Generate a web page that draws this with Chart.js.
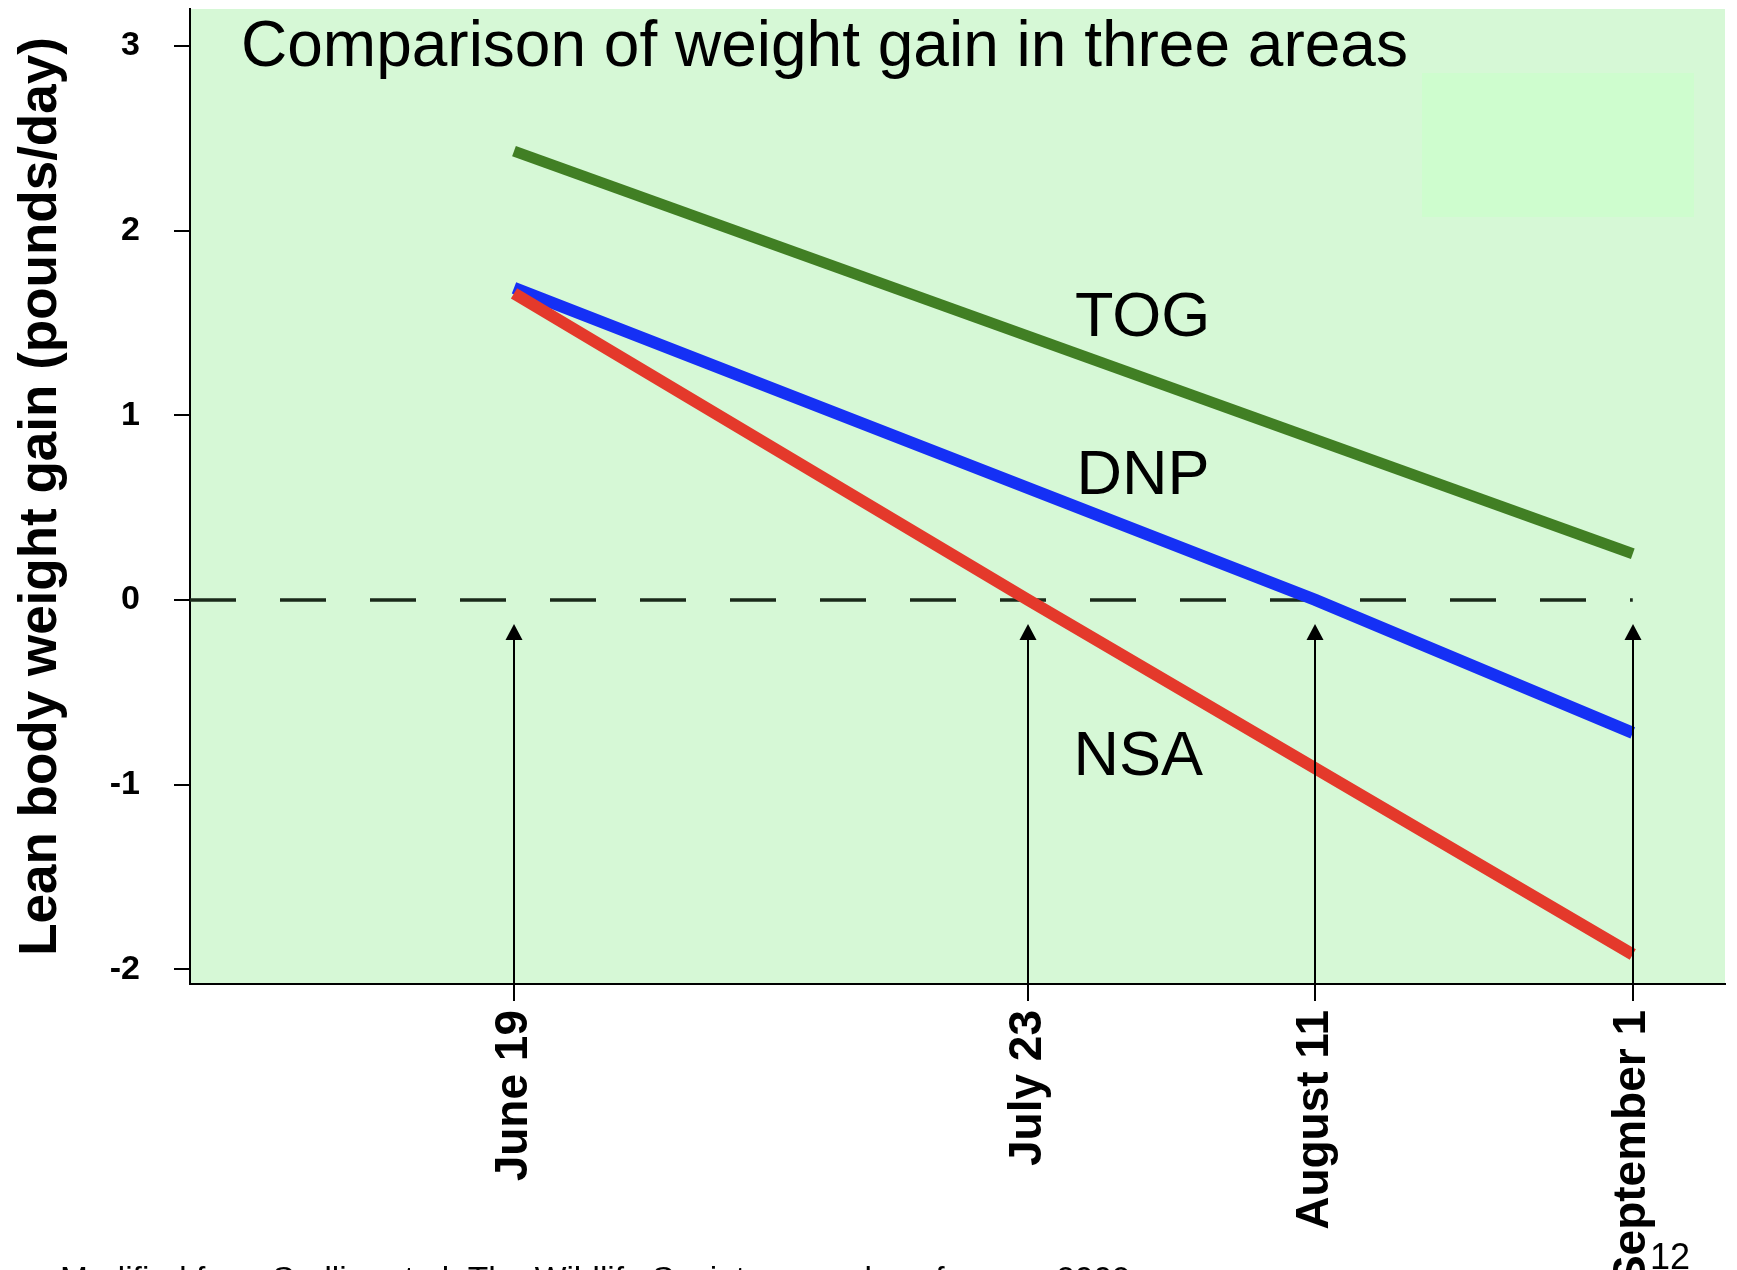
<!DOCTYPE html>
<html>
<head>
<meta charset="utf-8">
<script src="https://cdn.jsdelivr.net/npm/chart.js@4.4.0/dist/chart.umd.min.js"></script>
<style>
html,body{margin:0;padding:0;background:#ffffff;overflow:hidden;width:1737px;height:1270px;}
canvas{display:block;}
</style>
</head>
<body>
<canvas id="c" width="1737" height="1270"></canvas>
<script>
// ---- data (days counted from June 19) ----
const dateLabels = ['June 19', 'July 23', 'August 11', 'September 1'];
const dateDays   = [0, 34, 53, 74];
const yTicks     = [-2, -1, 0, 1, 2, 3];
const seriesNames = ['TOG', 'DNP', 'NSA'];
const togDays   = [0, 74];
const togValues = [2.43, 0.25];
const dnpDays   = [0, 53, 74];
const dnpValues = [1.69, 0, -0.72];
const nsaDays   = [0, 34, 74];
const nsaValues = [1.66, 0, -1.92];
const zeroDays   = [-21.43, 74];
const zeroValues = [0, 0];
const titleText = 'Comparison of weight gain in three areas';
const yTitle = 'Lean body weight gain (pounds/day)';
const footerText = 'Modified from Sadlier et al. The Wildlife Society annual conference 2009';
const pageNumber = '12';

const FONT = '"Liberation Sans", Arial, Helvetica, sans-serif';
Chart.defaults.font.family = FONT;

const pts = (xs, ys) => xs.map((x, i) => ({x: x, y: ys[i]}));

const bgPlugin = {
  id: 'bg',
  beforeDraw(chart) {
    const {ctx, chartArea: a} = chart;
    ctx.save();
    ctx.fillStyle = '#d6f8d6';
    ctx.fillRect(a.left, a.top, a.right - a.left, a.bottom - a.top);
    ctx.fillStyle = '#cefdce';
    ctx.fillRect(a.left + 1232, a.top + 64, 272, 144);
    ctx.restore();
  }
};

const arrowPlugin = {
  id: 'arrows',
  afterDatasetsDraw(chart) {
    const {ctx, scales: {x, y}, chartArea: a} = chart;
    const tipY = y.getPixelForValue(-0.13);
    ctx.save();
    ctx.strokeStyle = '#000';
    ctx.fillStyle = '#000';
    ctx.lineWidth = 2;
    dateDays.forEach(d => {
      const px = Math.round(x.getPixelForValue(d));
      ctx.beginPath();
      ctx.moveTo(px, a.bottom);
      ctx.lineTo(px, tipY + 12);
      ctx.stroke();
      ctx.beginPath();
      ctx.moveTo(px, tipY);
      ctx.lineTo(px - 8.5, tipY + 16);
      ctx.lineTo(px + 8.5, tipY + 16);
      ctx.closePath();
      ctx.fill();
    });
    ctx.restore();
  }
};

const textPlugin = {
  id: 'texts',
  afterDatasetsDraw(chart) {
    const {ctx, scales: {x, y}, chartArea: a} = chart;
    ctx.save();
    ctx.fillStyle = '#000';
    ctx.textAlign = 'left';
    ctx.textBaseline = 'alphabetic';
    ctx.font = '64px ' + FONT;
    ctx.fillText(titleText, a.left + 51, a.top + 57);
    ctx.font = '63px ' + FONT;
    const anchors = [[37.1, 1.43], [37.2, 0.574], [37.0, -0.948]];
    seriesNames.forEach((n, i) => {
      ctx.fillText(n, x.getPixelForValue(anchors[i][0]), y.getPixelForValue(anchors[i][1]));
    });
    ctx.restore();
  },
  afterDraw(chart) {
    const {ctx} = chart;
    ctx.save();
    ctx.fillStyle = '#000';
    ctx.textAlign = 'left';
    ctx.textBaseline = 'alphabetic';
    ctx.font = '33.5px ' + FONT;
    ctx.fillText(footerText, 60, 1290);
    ctx.font = '36px ' + FONT;
    ctx.fillText(pageNumber, 1650, 1269);
    ctx.restore();
  }
};

new Chart(document.getElementById('c'), {
  type: 'line',
  data: {
    datasets: [
      {label: seriesNames[0], data: pts(togDays, togValues), borderColor: '#417f24', borderWidth: 11, order: 2},
      {label: seriesNames[1], data: pts(dnpDays, dnpValues), borderColor: '#1530f5', borderWidth: 12, order: 1},
      {label: seriesNames[2], data: pts(nsaDays, nsaValues), borderColor: '#e4392b', borderWidth: 12, order: 0},
      {label: 'zero', data: pts(zeroDays, zeroValues), borderColor: '#1a2a1a', borderWidth: 3.5, borderDash: [46, 44], order: 3}
    ]
  },
  options: {
    responsive: false,
    animation: false,
    devicePixelRatio: 1,
    layout: {padding: {top: 9, right: 12, left: 0, bottom: 0}},
    elements: {point: {radius: 0}, line: {tension: 0, fill: false, borderCapStyle: 'butt'}},
    plugins: {legend: {display: false}, tooltip: {enabled: false}, title: {display: false}},
    scales: {
      x: {
        type: 'linear',
        min: -21.43,
        max: 80.1,
        afterBuildTicks: s => { s.ticks = dateDays.map(v => ({value: v})); },
        afterFit: s => { s.height = 286; s.paddingLeft = 0; s.paddingRight = 0; s.paddingTop = 0; s.paddingBottom = 0; },
        ticks: {
          callback: (v, i) => dateLabels[i],
          autoSkip: false,
          minRotation: 90,
          maxRotation: 90,
          font: {size: 46, weight: 'bold'},
          color: '#000',
          padding: 9,
          labelOffset: 0
        },
        grid: {drawOnChartArea: false, drawTicks: true, tickLength: 17, color: '#000', lineWidth: 2},
        border: {display: true, color: '#000', width: 2}
      },
      y: {
        type: 'linear',
        min: -2.08,
        max: 3.2,
        afterBuildTicks: s => { s.ticks = yTicks.map(v => ({value: v})); },
        afterFit: s => { s.width = 190; s.paddingTop = 0; s.paddingBottom = 0; s.paddingLeft = 0; s.paddingRight = 0; },
        ticks: {
          callback: v => String(v),
          font: {size: 34, weight: 'bold'},
          color: '#000',
          padding: 34
        },
        grid: {drawOnChartArea: false, drawTicks: true, tickLength: 16, color: '#000', lineWidth: 2},
        border: {display: true, color: '#000', width: 2},
        title: {display: true, text: yTitle, font: {size: 53, weight: 'bold'}, color: '#000', padding: {top: 10, bottom: 0}}
      }
    }
  },
  plugins: [bgPlugin, arrowPlugin, textPlugin]
});
</script>
</body>
</html>
